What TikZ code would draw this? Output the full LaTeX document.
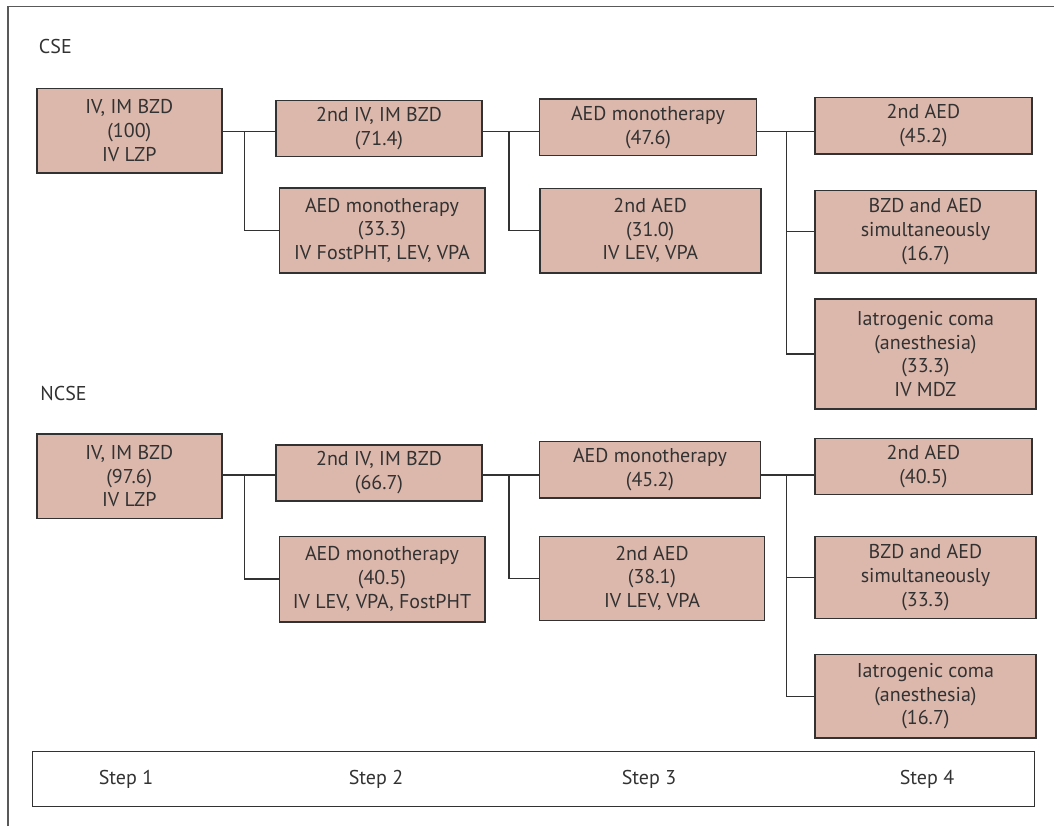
\documentclass[tikz,border=0pt]{standalone}
\usepackage{fontspec}
\setmainfont{PT Sans}
\definecolor{boxfill}{RGB}{220,184,172}
\definecolor{ink}{RGB}{50,50,50}
\tikzset{
  box/.style={draw=ink, line width=0.8pt, fill=boxfill, text=ink, align=center,
    inner sep=0pt, font=\fontsize{10}{11.9}\selectfont},
  tag/.style={text=ink, inner sep=0pt, font=\fontsize{10}{11.9}\selectfont},
  link/.style={draw=ink, line width=0.55pt},
}

\begin{document}
\begin{tikzpicture}[x=0.5pt,y=-0.5pt]
\useasboundingbox (0,0) rectangle (1054,826);
\draw[black!65, line width=0.9pt] (8,826) -- (8,6.5) -- (1054,6.5);

\node[tag, anchor=base west] (cse) at (38.6,53) {CSE};
\node[box, minimum width=92.5pt, minimum height=42.2pt] (A1) at (129.3,130.8) {IV, IM BZD\\(100)\\IV LZP};
\node[box, minimum width=102.8pt, minimum height=28pt] (B1) at (379,128.3) {2nd IV, IM BZD\\(71.4)};
\node[box, minimum width=102.7pt, minimum height=42.5pt] (B2) at (382,230.2) {AED monotherapy\\(33.3)\\IV FostPHT, LEV, VPA};
\node[box, minimum width=108.5pt, minimum height=28.2pt] (C1) at (648,127.2) {AED monotherapy\\(47.6)};
\node[box, minimum width=110.5pt, minimum height=42.2pt] (C2) at (650.2,230.5) {2nd AED\\(31.0)\\IV LEV, VPA};
\node[box, minimum width=108.3pt, minimum height=28.3pt] (D1) at (923.4,125.7) {2nd AED\\(45.2)};
\node[box, minimum width=110.3pt, minimum height=41.2pt] (D2) at (925.4,231.5) {BZD and AED\\simultaneously\\(16.7)};
\node[box, minimum width=110.3pt, minimum height=55pt] (D3) at (925.4,354) {Iatrogenic coma\\(anesthesia)\\(33.3)\\IV MDZ};

\coordinate (jB) at (244.5,131.5);
\coordinate (jC) at (509,131.5);
\coordinate (jD) at (786.2,131.5);
\draw[link] (A1.east |- jB) -- (B1.west |- jB);
\draw[link] (jB) |- (B2.west);
\draw[link] (B1.east |- jC) -- (C1.west |- jC);
\draw[link] (jC) |- (C2.west);
\draw[link] (C1.east |- jD) -- (D1.west |- jD);
\draw[link] (jD) |- (D2.west);
\draw[link] (jD) |- (D3.west);

\node[tag, anchor=base west] (ncse) at (40,400) {NCSE};
\node[box, minimum width=92.5pt, minimum height=42.2pt] (A2) at (129.3,476.2) {IV, IM BZD\\(97.6)\\IV LZP};
\node[box, minimum width=102.8pt, minimum height=28pt] (B3) at (379,472.7) {2nd IV, IM BZD\\(66.7)};
\node[box, minimum width=102.7pt, minimum height=42.7pt] (B4) at (382,579) {AED monotherapy\\(40.5)\\IV LEV, VPA, FostPHT};
\node[box, minimum width=110.4pt, minimum height=28.2pt] (C3) at (650,469.8) {AED monotherapy\\(45.2)};
\node[box, minimum width=112.4pt, minimum height=42pt] (C4) at (652,578.3) {2nd AED\\(38.1)\\IV LEV, VPA};
\node[box, minimum width=108.3pt, minimum height=28pt] (D4) at (923.4,466.3) {2nd AED\\(40.5)};
\node[box, minimum width=110.3pt, minimum height=41pt] (D5) at (925.4,577.3) {BZD and AED\\simultaneously\\(33.3)};
\node[box, minimum width=110.3pt, minimum height=41.8pt] (D6) at (925.4,696.2) {Iatrogenic coma\\(anesthesia)\\(16.7)};

\coordinate (kB) at (244.5,475);
\coordinate (kC) at (509,475);
\coordinate (kD) at (786.2,475);
\draw[link] (A2.east |- kB) -- (B3.west |- kB);
\draw[link] (kB) |- (B4.west);
\draw[link] (B3.east |- kC) -- (C3.west |- kC);
\draw[link] (kC) |- (C4.west);
\draw[link] (C3.east |- kD) -- (D4.west |- kD);
\draw[link] (kD) |- (D5.west);
\draw[link] (kD) |- (D6.west);

\node[draw=ink, line width=0.7pt, minimum width=501pt, minimum height=27.5pt, inner sep=0pt] (steps) at (533.65,779) {};
\node[tag] (s1) at (126,779) {Step 1};
\node[tag] (s2) at (376,779) {Step 2};
\node[tag] (s3) at (649,779) {Step 3};
\node[tag] (s4) at (927,779) {Step 4};
\end{tikzpicture}
\end{document}
